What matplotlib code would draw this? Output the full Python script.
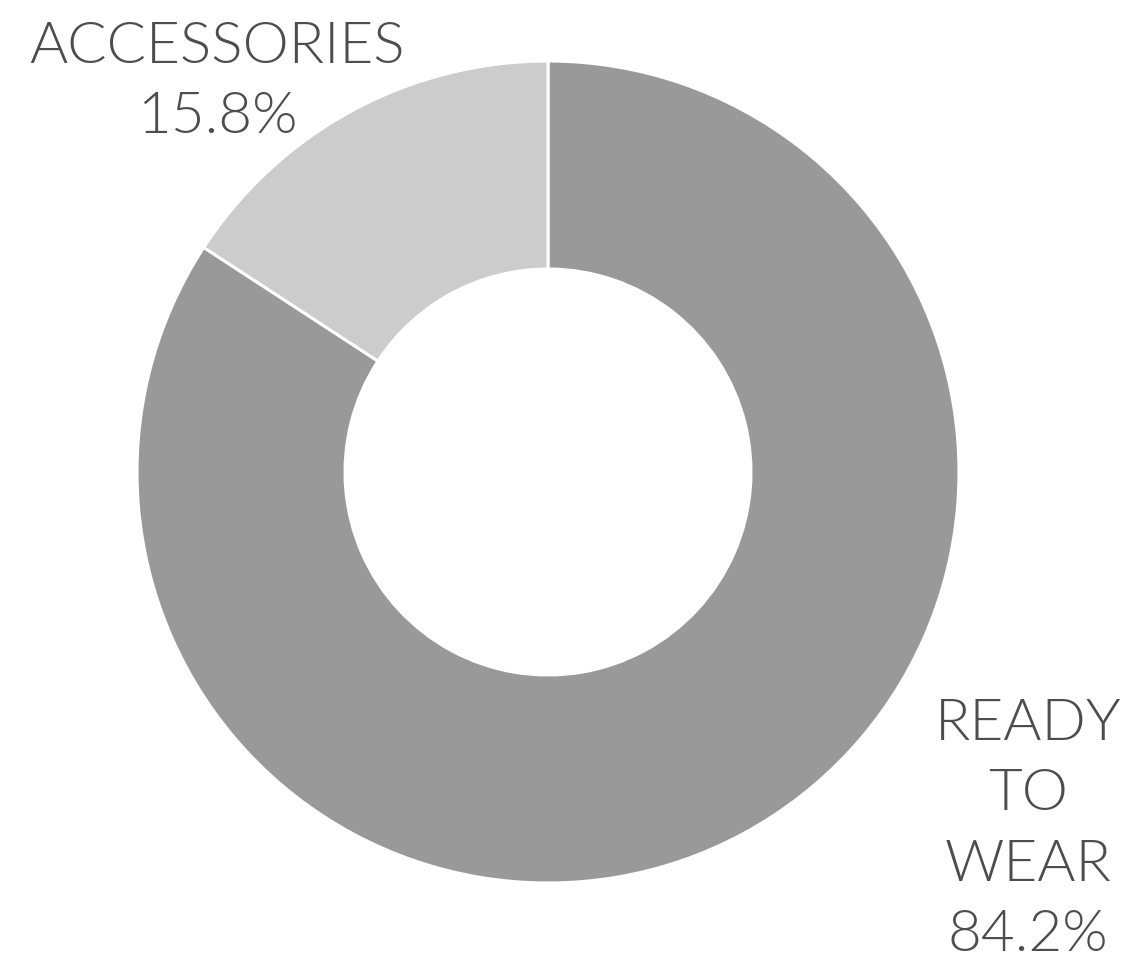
import matplotlib
matplotlib.use("Agg")
import matplotlib.pyplot as plt

categories = ["READY\nTO\nWEAR", "ACCESSORIES"]
values = [84.2, 15.8]
colors = ["#999999", "#cccccc"]

W, H = 1132, 958
fig = plt.figure(figsize=(W / 100, H / 100), dpi=100)
ax = fig.add_axes([0, 0, 1, 1])

cx, cy, r = 548, H - 472, 411
ax.pie(values, colors=colors, startangle=90, counterclock=False,
       center=(cx, cy), radius=r, frame=True,
       wedgeprops=dict(width=208, edgecolor="white", linewidth=2.2))
ax.set_xlim(0, W)
ax.set_ylim(0, H)
ax.set_aspect("equal")
ax.axis("off")

txt_kw = dict(fontfamily="Lato", fontweight=300, fontsize=42,
              color="#4d4d4d", ha="center", multialignment="center",
              linespacing=1.47)
ax.text(217, H - 133, f"{categories[1]}\n{values[1]}%", va="baseline", **txt_kw)
ax.text(1028, H - 951, f"{categories[0]}\n{values[0]}%", va="baseline", **txt_kw)

fig.savefig("out.png", dpi=100)
